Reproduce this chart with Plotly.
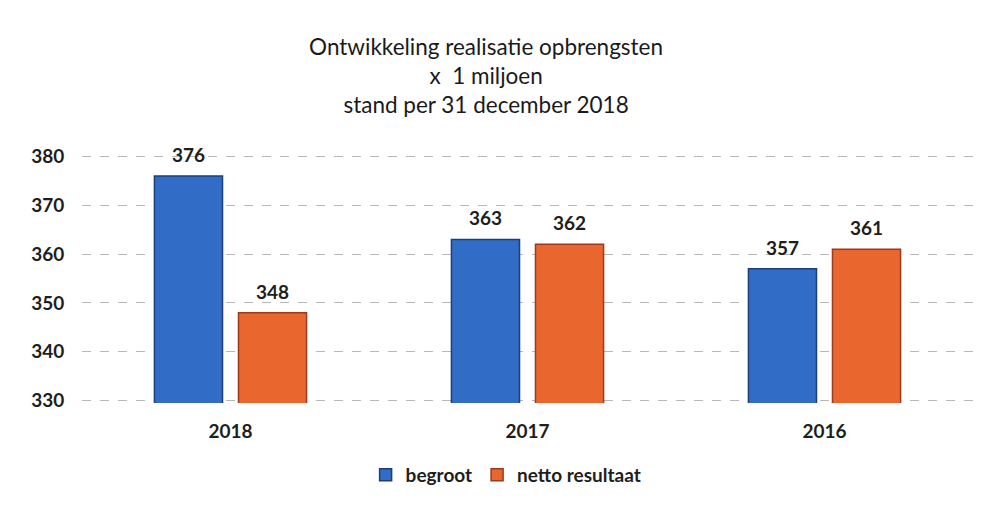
import plotly.graph_objects as go

# data
jaren = ["2018", "2017", "2016"]
begroot = [376, 363, 357]
netto_resultaat = [348, 362, 361]
y_ticks = [330, 340, 350, 360, 370, 380]

font_family = "Lato, 'Open Sans', sans-serif"
label_font = dict(size=19, color="#1e1e1e", weight="bold")

fig = go.Figure()
fig.add_trace(go.Bar(
    x=jaren, y=begroot, name="begroot",
    marker=dict(color="#316dc6", line=dict(color="#1c3f7a", width=1.5)),
))
fig.add_trace(go.Bar(
    x=jaren, y=netto_resultaat, name="netto resultaat",
    marker=dict(color="#e9672f", line=dict(color="#9a3a1e", width=1.5)),
))

# value labels sit a bit higher above the bars than plotly's own outside text
# (category axis: annotations use the serial number of the category)
for reeks, verschuiving in [(begroot, -42), (netto_resultaat, 42)]:
    for i, waarde in enumerate(reeks):
        fig.add_annotation(
            x=i, y=waarde, xref="x", yref="y", text=str(waarde),
            showarrow=False, xshift=verschuiving, yshift=8, yanchor="bottom",
            font=label_font,
        )

fig.update_layout(
    width=990, height=506,
    paper_bgcolor="white", plot_bgcolor="white",
    font=dict(family=font_family, size=19, color="#1e1e1e"),
    title=dict(
        text="Ontwikkeling realisatie opbrengsten<br>x  1 miljoen<br>stand per 31 december 2018",
        x=0.491, xanchor="center", y=0.892, yanchor="top",
        font=dict(size=22.5, color="#1a1a1a"),
    ),
    barmode="group", bargap=0.434, bargroupgap=0.19,
    margin=dict(l=82, r=17, t=155, b=101),
    showlegend=True,
    legend=dict(
        orientation="h", x=0.476, xanchor="center", y=-0.29, yanchor="middle",
        font=dict(size=19, weight="bold"), itemwidth=30,
    ),
    xaxis=dict(
        type="category", categoryorder="array", categoryarray=jaren,
        showgrid=False, showline=False, ticks="outside", ticklen=11,
        tickcolor="rgba(0,0,0,0)", tickfont=dict(size=19, weight="bold"),
    ),
    yaxis=dict(
        range=[329.5, 380.3], tickvals=y_ticks, showgrid=True,
        gridcolor="#b8b8b8", griddash="dash", gridwidth=1,
        zeroline=False, showline=False, ticks="outside", ticklen=13,
        tickcolor="rgba(0,0,0,0)", tickfont=dict(size=19, weight="bold"),
    ),
)

# no default body margin, so the figure sits at the top-left corner of the page
fig.write_html("out.html", config={"displayModeBar": False},
               post_script="document.body.style.margin='0';")
